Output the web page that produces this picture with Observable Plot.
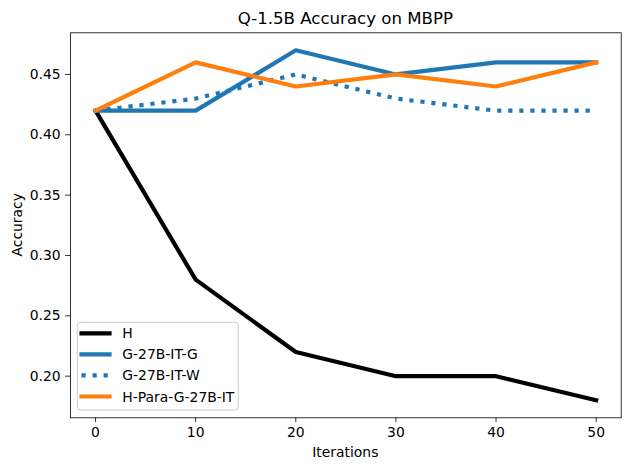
<!DOCTYPE html>
<html>
<head>
<meta charset="utf-8">
<script src="https://cdn.jsdelivr.net/npm/d3@7"></script>
<script src="https://cdn.jsdelivr.net/npm/@observablehq/plot@0.6"></script>
<style>
  html, body { margin: 0; padding: 0; background: #fff; }
  #chart svg { display: block; }
</style>
</head>
<body>
<div id="chart"></div>
<script>
const iterations = [0, 10, 20, 30, 40, 50];
const seriesNames = ["H", "G-27B-IT-G", "G-27B-IT-W", "H-Para-G-27B-IT"];
const hValues = [0.42, 0.28, 0.22, 0.20, 0.20, 0.18];
const g27bItG = [0.42, 0.42, 0.47, 0.45, 0.46, 0.46];
const g27bItW = [0.42, 0.43, 0.45, 0.43, 0.42, 0.42];
const hParaG27bIt = [0.42, 0.46, 0.44, 0.45, 0.44, 0.46];
const xTicks = [0, 10, 20, 30, 40, 50];
const yTicks = [0.20, 0.25, 0.30, 0.35, 0.40, 0.45];
const titleText = "Q-1.5B Accuracy on MBPP";
const xLabel = "Iterations";
const yLabel = "Accuracy";

const valuesList = [hValues, g27bItG, g27bItW, hParaG27bIt];
const styles = [
  {stroke: "#000000", dash: null},
  {stroke: "#1f77b4", dash: null},
  {stroke: "#1f77b4", dash: "4.17,6.88"},
  {stroke: "#ff7f0e", dash: null}
];

const seriesData = seriesNames.map((name, i) =>
  iterations.map((x, j) => ({series: name, x, y: valuesList[i][j]}))
);

const allY = valuesList.flat();
const yMin = d3.min(allY), yMax = d3.max(allY);
const yPad = (yMax - yMin) * 0.05;
const xMin = d3.min(iterations), xMax = d3.max(iterations);
const xPad = (xMax - xMin) * 0.05;

const W = 630, H = 470;
const mL = 70, mR = 9.3, mT = 32.3, mB = 52.7;
const font = "DejaVu Sans";

const lineMarks = seriesData.map((d, i) => Plot.line(d, {
  x: "x", y: "y",
  stroke: styles[i].stroke,
  strokeWidth: 4.17,
  strokeDasharray: styles[i].dash || undefined,
  strokeLinecap: styles[i].dash ? "butt" : "square",
  strokeLinejoin: "round"
}));

const plot = Plot.plot({
  width: W, height: H,
  marginLeft: mL, marginRight: mR, marginTop: mT, marginBottom: mB,
  style: {fontFamily: font, fontSize: "13.9px", background: "#fff", color: "#000"},
  x: {domain: [xMin - xPad, xMax + xPad]},
  y: {domain: [yMin - yPad, yMax + yPad]},
  marks: [
    ...lineMarks,
    Plot.frame({stroke: "#000", strokeWidth: 0.8}),
    Plot.axisX({ticks: xTicks, tickSize: 4.9, tickPadding: 4.2, strokeWidth: 0.8, label: null, tickFormat: d3.format("d"), fontSize: 13.9}),
    Plot.axisY({ticks: yTicks, tickSize: 4.9, tickPadding: 4.9, strokeWidth: 0.8, label: null, tickFormat: d3.format(".2f"), fontSize: 13.9})
  ]
});

document.getElementById("chart").appendChild(plot);
const svg = d3.select(plot);
const cx = mL + (W - mL - mR) / 2;
const cy = mT + (H - mT - mB) / 2;

svg.append("text").attr("x", cx).attr("y", 24).attr("text-anchor", "middle")
  .attr("font-family", font).attr("font-size", "16.6px").attr("fill", "#000").text(titleText);
svg.append("text").attr("x", cx).attr("y", 456.5).attr("text-anchor", "middle")
  .attr("font-family", font).attr("font-size", "13.9px").attr("fill", "#000").text(xLabel);
svg.append("text").attr("transform", `translate(21.5,${cy}) rotate(-90)`).attr("text-anchor", "middle")
  .attr("font-family", font).attr("font-size", "13.9px").attr("fill", "#000").text(yLabel);

// legend
const lg = svg.append("g");
lg.append("rect").attr("x", 77.3).attr("y", 322.3).attr("width", 161).attr("height", 87.7)
  .attr("rx", 3).attr("fill", "#fff").attr("fill-opacity", 0.8).attr("stroke", "#cccccc").attr("stroke-width", 1);
const rowY = [333.3, 354.3, 375.3, 396.5];
seriesNames.forEach((name, i) => {
  lg.append("line").attr("x1", 81.5).attr("x2", 109.5).attr("y1", rowY[i]).attr("y2", rowY[i])
    .attr("stroke", styles[i].stroke).attr("stroke-width", 4.17)
    .attr("stroke-dasharray", styles[i].dash)
    .attr("stroke-linecap", styles[i].dash ? "butt" : "square");
  lg.append("text").attr("x", 122.3).attr("y", rowY[i]).attr("dy", "0.36em")
    .attr("text-anchor", "start")
    .attr("font-family", font).attr("font-size", "13.9px").attr("fill", "#000").text(name);
});
</script>
</body>
</html>
